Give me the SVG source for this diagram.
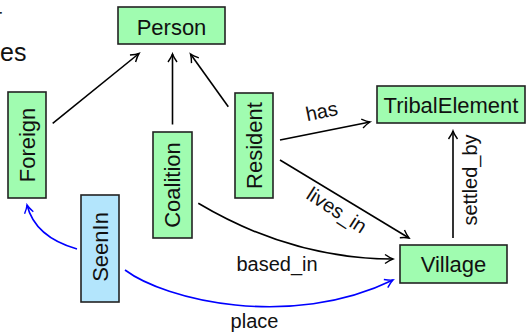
<svg xmlns="http://www.w3.org/2000/svg" width="527" height="332" viewBox="0 0 527 332">
<style>
  .box { stroke: #222; stroke-width: 1.6; }
  .g { fill: #a0fcb0; }
  .b { fill: #b3e5fc; }
  .t { font-family: "Liberation Sans", Arial, sans-serif; font-size: 22px; fill: #111; text-anchor: middle; }
  .lbl { font-family: "Liberation Sans", Arial, sans-serif; font-size: 20px; fill: #111; text-anchor: middle; }
  .e { fill: none; stroke: #000; stroke-width: 1.6; }
  .eb { fill: none; stroke: #0000ff; stroke-width: 1.6; }
</style>
<defs>
  <marker id="ak" viewBox="-10 -6 12 12" refX="0" refY="0" markerWidth="12" markerHeight="12" markerUnits="userSpaceOnUse" orient="auto">
    <path d="M-8,-4.5 Q-3,-1 0,0 Q-3,1 -8,4.5" fill="none" stroke="#000" stroke-width="1.4"/>
  </marker>
  <marker id="ab" viewBox="-10 -6 12 12" refX="0" refY="0" markerWidth="12" markerHeight="12" markerUnits="userSpaceOnUse" orient="auto">
    <path d="M-8,-4.5 Q-3,-1 0,0 Q-3,1 -8,4.5" fill="none" stroke="#0000ff" stroke-width="1.4"/>
  </marker>
</defs>

<text x="2" y="24" class="t" style="text-anchor:end">r</text>
<text x="0" y="61" font-family="Liberation Sans, Arial, sans-serif" font-size="25" fill="#111">es</text>

<g id="edges">
  <path class="e" d="M52.7,123.3 L139,53.5" marker-end="url(#ak)"/>
  <path class="e" d="M172.5,124.5 L172.5,54" marker-end="url(#ak)"/>
  <path class="e" d="M228.3,106.7 L190.5,54" marker-end="url(#ak)"/>
  <path class="e" d="M280,140 L370,122" marker-end="url(#ak)"/>
  <path class="e" d="M280,160 L409,238" marker-end="url(#ak)"/>
  <path class="e" d="M198.3,203.3 Q292,259 393,259" marker-end="url(#ak)"/>
  <path class="e" d="M453,238 L453,131" marker-end="url(#ak)"/>
  <path class="eb" d="M77,249 Q35,237 27,205" marker-end="url(#ab)"/>
  <path class="eb" d="M125,270 C165,300 290,330 393,280" marker-end="url(#ab)"/>
  <text class="lbl" transform="translate(323,118) rotate(-11.5)">has</text>
  <text class="lbl" transform="translate(333,216) rotate(33)">lives_in</text>
  <text class="lbl" x="277" y="271">based_in</text>
  <text class="lbl" x="254.5" y="328">place</text>
  <text class="lbl" transform="translate(477,180) rotate(-90)">settled_by</text>
</g>

<g id="Person">
  <rect class="box g" x="118" y="7" width="107" height="37"/>
  <text class="t" x="171.5" y="34.5">Person</text>
</g>
<g id="TribalElement">
  <rect class="box g" x="377" y="86" width="148" height="37"/>
  <text class="t" x="451" y="112.5">TribalElement</text>
</g>
<g id="Village">
  <rect class="box g" x="400" y="245" width="107" height="38"/>
  <text class="t" x="453.5" y="272">Village</text>
</g>
<g id="Foreign">
  <rect class="box g" x="8" y="92" width="38" height="106"/>
  <text class="t" transform="translate(27,145) rotate(-90)" y="7.5">Foreign</text>
</g>
<g id="Coalition">
  <rect class="box g" x="153" y="132" width="39" height="106"/>
  <text class="t" transform="translate(172.5,185) rotate(-90)" y="7.5">Coalition</text>
</g>
<g id="Resident">
  <rect class="box g" x="235" y="93" width="38" height="105"/>
  <text class="t" transform="translate(254,145.5) rotate(-90)" y="7.5">Resident</text>
</g>
<g id="SeenIn">
  <rect class="box b" x="81" y="195" width="38" height="107"/>
  <text class="t" transform="translate(100,247) rotate(-90)" y="7.5">SeenIn</text>
</g>
</svg>
